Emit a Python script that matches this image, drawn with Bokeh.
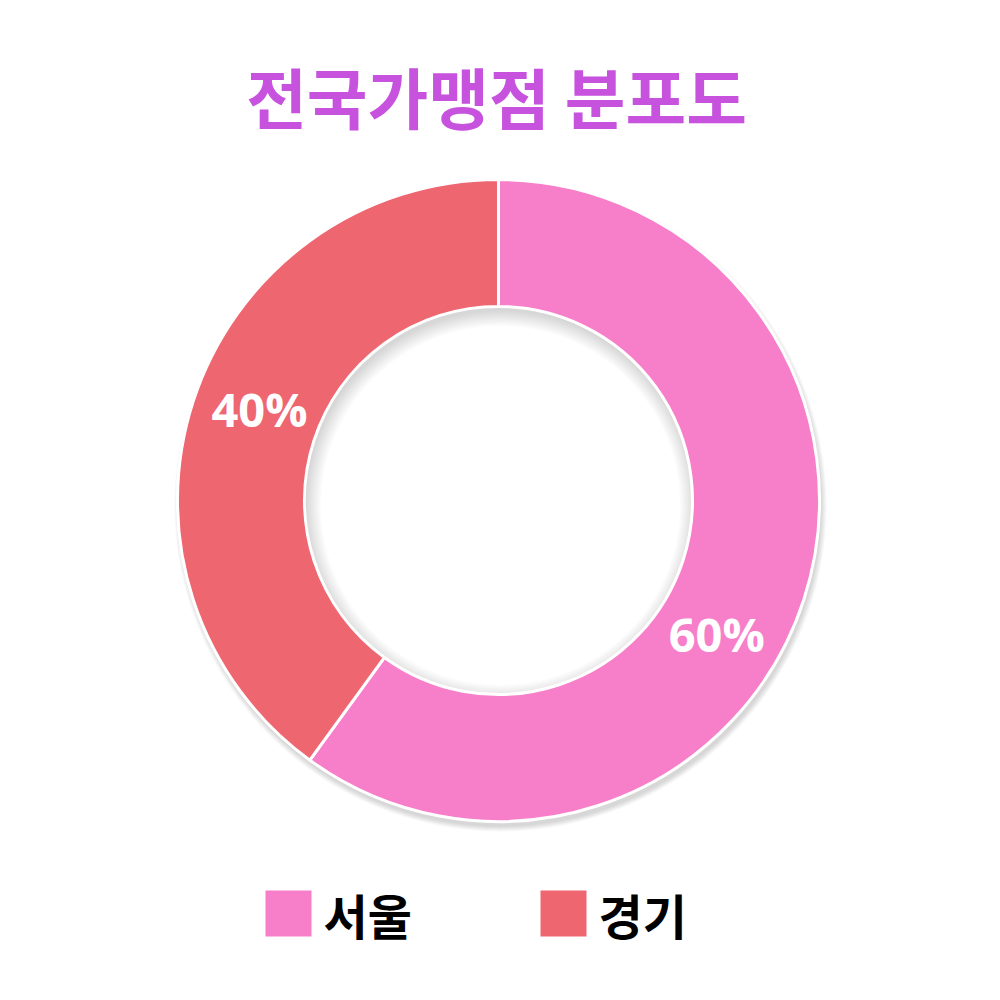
import math
from bokeh.plotting import figure
from bokeh.models import Range1d
from bokeh.core.properties import value
from bokeh.embed import file_html
from bokeh.resources import INLINE

# ---- data ----
title_text = "전국가맹점 분포도"
categories = ["서울", "경기"]
shares = [60, 40]
labels = ["60%", "40%"]
colors = ["#f77fca", "#ee6670"]

# ---- layout / style params ----
CX, CY = 498, 500
R_OUT, R_IN = 321, 194
LABEL_R = 256
label_angles_deg = [-31.5, 159.0]

p = figure(width=984, height=984, output_backend="svg", toolbar_location=None,
           x_range=Range1d(0, 984), y_range=Range1d(16, 1000), min_border=0)
p.axis.visible = False
p.grid.visible = False
p.outline_line_color = None
p.background_fill_color = "white"
p.border_fill_color = "white"

# soft shadow
for i in range(10):
    p.annulus(x=CX + 2, y=CY - 5, inner_radius=R_IN - i * 1.6, outer_radius=R_OUT + i * 0.6,
              fill_color="#000000", fill_alpha=0.016, line_color=None)

# wedges (clockwise from top)
total = sum(shares)
start = math.pi / 2
starts, ends = [], []
for s in shares:
    end = start - 2 * math.pi * s / total
    starts.append(start)
    ends.append(end)
    start = end
p.annular_wedge(x=CX, y=CY, inner_radius=R_IN, outer_radius=R_OUT,
                start_angle=starts, end_angle=ends, direction="clock",
                fill_color=colors, line_color="white", line_width=3)

# percentage labels
lx = [CX + LABEL_R * math.cos(math.radians(a)) for a in label_angles_deg]
ly = [CY + LABEL_R * math.sin(math.radians(a)) for a in label_angles_deg]
p.text(x=lx, y=ly, text=labels, text_align="center", text_baseline="middle",
       text_color="white", text_font=value("Open Sans"), text_font_style="bold",
       text_font_size="47px")

# title
p.text(x=[496], y=[1000 - 94], text=[title_text], text_align="center", text_baseline="middle",
       text_color="#c752de", text_font=value("Noto Sans CJK KR"), text_font_style="bold",
       text_font_size="66px")

# legend
leg_x = [288, 563]
leg_y = 1000 - 913
p.rect(x=leg_x, y=[leg_y] * 2, width=46, height=46, fill_color=colors, line_color=None)
p.text(x=[x + 35 for x in leg_x], y=[leg_y] * 2, text=categories, text_align="left",
       text_baseline="middle", text_color="black", text_font=value("Noto Sans CJK KR"),
       text_font_style="bold", text_font_size="48px")

open("out.html", "w").write(file_html(p, INLINE))
